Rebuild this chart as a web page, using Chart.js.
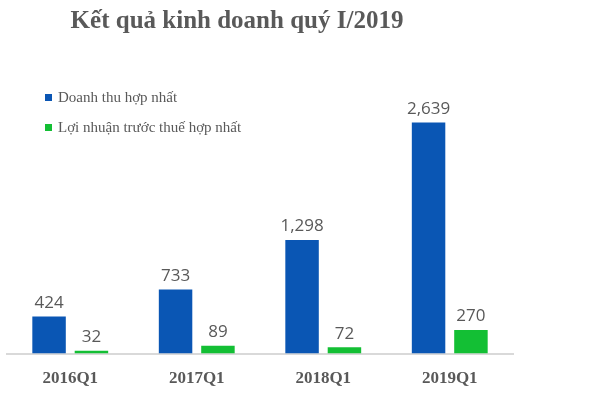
<!DOCTYPE html>
<html>
<head>
<meta charset="utf-8">
<script src="https://cdn.jsdelivr.net/npm/chart.js@4/dist/chart.umd.min.js"></script>
<style>
  html, body { margin: 0; padding: 0; background: #fff; }
  canvas { display: block; }
</style>
</head>
<body>
<canvas id="c" width="597" height="393"></canvas>
<script>
// Dữ liệu
const categories = ['2016Q1', '2017Q1', '2018Q1', '2019Q1'];
const doanhThu = [424, 733, 1298, 2639];
const loiNhuan = [32, 89, 72, 270];
const seriesNames = ['Doanh thu hợp nhất', 'Lợi nhuận trước thuế hợp nhất'];
const chartTitle = 'Kết quả kinh doanh quý I/2019';

const GRAY = '#595959';
const SERIF = '"Liberation Serif", "DejaVu Serif", serif';

// Tiêu đề + chú thích vẽ thủ công để đặt đúng vị trí
const decorPlugin = {
  id: 'decor',
  afterDraw(chart) {
    const ctx = chart.ctx;
    ctx.save();
    ctx.fillStyle = GRAY;
    ctx.font = 'bold 25px ' + SERIF;
    ctx.textAlign = 'center';
    ctx.textBaseline = 'middle';
    ctx.fillText(chartTitle, 237, 22);

    ctx.font = '15px ' + SERIF;
    ctx.textAlign = 'left';
    chart.data.datasets.forEach((ds, i) => {
      const y = 98 + i * 30;
      ctx.fillStyle = ds.backgroundColor;
      ctx.fillRect(45, y - 4, 7, 7);
      ctx.fillStyle = GRAY;
      ctx.fillText(ds.label, 58, y);
    });
    ctx.restore();
  }
};

// Nhãn giá trị phía trên cột
const valueLabels = {
  id: 'valueLabels',
  afterDatasetsDraw(chart) {
    const ctx = chart.ctx;
    ctx.save();
    ctx.fillStyle = GRAY;
    ctx.font = '17px "Open Sans", sans-serif';
    ctx.textAlign = 'center';
    ctx.textBaseline = 'bottom';
    chart.data.datasets.forEach((ds, i) => {
      chart.getDatasetMeta(i).data.forEach((bar, j) => {
        ctx.fillText(ds.data[j].toLocaleString('en-US'), bar.x, bar.y - 5);
      });
    });
    ctx.restore();
  }
};

new Chart(document.getElementById('c'), {
  type: 'bar',
  data: {
    labels: categories,
    datasets: [
      { label: seriesNames[0], data: doanhThu, backgroundColor: '#0a56b4' },
      { label: seriesNames[1], data: loiNhuan, backgroundColor: '#13bf34' }
    ]
  },
  options: {
    responsive: false,
    animation: false,
    categoryPercentage: 0.67,
    barPercentage: 0.79,
    layout: { padding: { left: 7, right: 84, top: 91, bottom: -11 } },
    plugins: {
      legend: { display: false },
      title: { display: false },
      tooltip: { enabled: false }
    },
    scales: {
      x: {
        grid: { display: false, drawTicks: false },
        border: { color: '#d9d9d9', width: 2 },
        ticks: {
          color: GRAY,
          padding: 15,
          font: { family: SERIF, size: 17, weight: 'bold' }
        }
      },
      y: {
        display: false,
        min: 0,
        max: 3000
      }
    }
  },
  plugins: [decorPlugin, valueLabels]
});
</script>
</body>
</html>
